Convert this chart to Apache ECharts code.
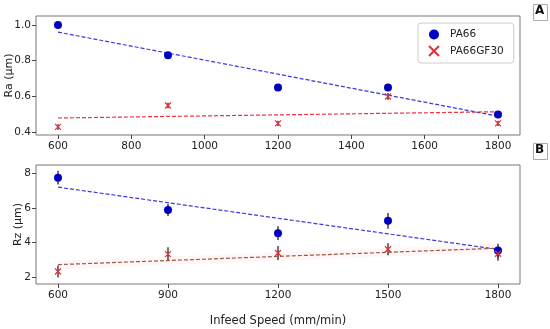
<!DOCTYPE html>
<html><head><meta charset="utf-8">
<script src="https://cdn.jsdelivr.net/npm/echarts@6/dist/echarts.min.js"></script>
<style>html,body{margin:0;padding:0;background:#fff}#c{width:550px;height:329px}</style>
</head><body><div id="c"></div>
<script>
// ---- data ----
var speeds = [600, 900, 1200, 1500, 1800];
var raPA66 = [1.00, 0.83, 0.65, 0.65, 0.50];
var raPA66Err = [0.01, 0.01, 0.01, 0.01, 0.01];
var raGF30 = [0.43, 0.55, 0.45, 0.60, 0.45];
var raGF30Err = [0.015, 0.015, 0.015, 0.02, 0.015];
var rzPA66 = [7.75, 5.88, 4.54, 5.25, 3.53];
var rzPA66Err = [0.40, 0.35, 0.40, 0.45, 0.40];
var rzGF30 = [2.32, 3.33, 3.39, 3.61, 3.35];
var rzGF30Err = [0.35, 0.40, 0.40, 0.35, 0.40];
var fitX = [600, 1800];
var raFitPA66 = [0.96, 0.49];
var raFitGF30 = [0.48, 0.515];
var rzFitPA66 = [7.20, 3.60];
var rzFitGF30 = [2.72, 3.67];
var rzBandLow = [2.45, 3.42];
var rzBandHigh = [2.95, 3.92];
var raTicksX = [600, 800, 1000, 1200, 1400, 1600, 1800];
var rzTicksX = [600, 900, 1200, 1500, 1800];
var raTicksY = [0.4, 0.6, 0.8, 1.0];
var rzTicksY = [2, 4, 6, 8];

function pairs(xs, ys){ return xs.map(function(x,i){return [x, ys[i]];}); }
function errData(xs, ys, es){ return xs.map(function(x,i){return [x, ys[i]-es[i], ys[i]+es[i]];}); }

var BLUE = '#0000c0', RED = '#e0303a', FONT = 'DejaVu Sans';
var axisTxt = {fontFamily: FONT, fontSize: 10.5, color: '#222'};

function errSeries(data, xi, yi){
  return {type:'custom', xAxisIndex:xi, yAxisIndex:yi, z:2, silent:true,
    renderItem:function(params, api){
      var p1 = api.coord([api.value(0), api.value(1)]);
      var p2 = api.coord([api.value(0), api.value(2)]);
      return {type:'line', shape:{x1:p1[0], y1:p1[1], x2:p2[0], y2:p2[1]}, style:{stroke:'#111', lineWidth:1.2}};
    },
    encode:{x:0, y:[1,2]}, data:data};
}
var bandData = fitX.map(function(x,i){return [x, rzBandLow[i], rzBandHigh[i]];});
var bandSeries = {type:'custom', xAxisIndex:1, yAxisIndex:1, z:1, silent:true,
  renderItem:function(params, api){
    if (params.dataIndex !== 0) return null;
    var a = api.coord([bandData[0][0], bandData[0][1]]);
    var b = api.coord([bandData[1][0], bandData[1][1]]);
    var c = api.coord([bandData[1][0], bandData[1][2]]);
    var d = api.coord([bandData[0][0], bandData[0][2]]);
    return {type:'polygon', shape:{points:[a,b,c,d]}, style:{fill:'rgba(255,190,205,0.14)'}};
  },
  encode:{x:0, y:[1,2]}, data:bandData};

var xSymbol = 'path://M0,0L10,10M10,0L0,10';

function xAxisCfg(gi, ticks){
  return {type:'value', gridIndex:gi, min:540, max:1860,
    axisLine:{show:false}, splitLine:{show:false},
    axisTick:{show:true, length:4, customValues:ticks, lineStyle:{color:'#444'}},
    axisLabel:Object.assign({customValues:ticks, margin:6, formatter:function(v){return String(v);}}, axisTxt)};
}
function yAxisCfg(gi, mn, mx, ticks, name, gap, dec){
  return {type:'value', gridIndex:gi, min:mn, max:mx,
    name:name, nameLocation:'middle', nameGap:gap, nameRotate:90, nameMoveOverlap:false,
    nameTextStyle:{fontFamily:FONT, fontSize:11, color:'#222'},
    axisLine:{show:false}, splitLine:{show:false},
    axisTick:{show:true, length:4, customValues:ticks, lineStyle:{color:'#444'}},
    axisLabel:Object.assign({customValues:ticks, margin:5, formatter:function(v){return v.toFixed(dec);}}, axisTxt)};
}

var chart = echarts.init(document.getElementById('c'), null, {renderer:'canvas'});
chart.setOption({
  animation:false,
  grid:[
    {left:36, top:16, width:484, height:119, outerBoundsMode:'none', containLabel:false, show:true, borderColor:'#777', borderWidth:1, backgroundColor:'#fff'},
    {left:36, top:165, width:484, height:119, outerBoundsMode:'none', containLabel:false, show:true, borderColor:'#777', borderWidth:1, backgroundColor:'#fff'}
  ],
  xAxis:[xAxisCfg(0, raTicksX), Object.assign(xAxisCfg(1, rzTicksX), {
    name:'Infeed Speed (mm/min)', nameLocation:'middle', nameGap:31, nameMoveOverlap:false,
    nameTextStyle:{fontFamily:FONT, fontSize:11.5, color:'#222'}})],
  yAxis:[yAxisCfg(0, 0.385, 1.05, raTicksY, 'Ra (µm)', 21.5, 1), yAxisCfg(1, 1.6, 8.48, rzTicksY, 'Rz (µm)', 12, 0)],
  legend:{left:418, top:23, orient:'vertical', itemGap:5, itemWidth:10, itemHeight:10,
    padding:[6,10,6,10], borderColor:'#ccc', borderWidth:1, borderRadius:3, backgroundColor:'#fff',
    textStyle:{fontFamily:FONT, fontSize:10.5, color:'#222', padding:[0,0,0,6]},
    data:['PA66','PA66GF30']},
  graphic:[
    {type:'rect', left:533, top:4, shape:{width:14, height:16}, style:{fill:'#fff', stroke:'#aaa', lineWidth:1}},
    {type:'text', left:535, top:5, style:{text:'A', fontFamily:FONT, fontSize:12, fontWeight:'bold', fill:'#111'}},
    {type:'rect', left:533, top:143, shape:{width:14, height:16}, style:{fill:'#fff', stroke:'#aaa', lineWidth:1}},
    {type:'text', left:535, top:144, style:{text:'B', fontFamily:FONT, fontSize:12, fontWeight:'bold', fill:'#111'}}
  ],
  series:[
    bandSeries,
    // fits
    {type:'line', xAxisIndex:0, yAxisIndex:0, symbol:'none', silent:true, lineStyle:{color:'#3a3ad8', width:1.2, type:[4,2]}, data:pairs(fitX, raFitPA66), z:3},
    {type:'line', xAxisIndex:0, yAxisIndex:0, symbol:'none', silent:true, lineStyle:{color:'#ee3344', width:1.2, type:[4,2]}, data:pairs(fitX, raFitGF30), z:3},
    {type:'line', xAxisIndex:1, yAxisIndex:1, symbol:'none', silent:true, lineStyle:{color:'#3a3ad8', width:1.2, type:[4,2]}, data:pairs(fitX, rzFitPA66), z:3},
    {type:'line', xAxisIndex:1, yAxisIndex:1, symbol:'none', silent:true, lineStyle:{color:'#9a5a40', width:1.2, type:[4,2]}, data:pairs(fitX, rzFitGF30), z:3},
    // error bars
    errSeries(errData(speeds, raPA66, raPA66Err), 0, 0),
    errSeries(errData(speeds, raGF30, raGF30Err), 0, 0),
    errSeries(errData(speeds, rzPA66, rzPA66Err), 1, 1),
    errSeries(errData(speeds, rzGF30, rzGF30Err), 1, 1),
    // markers
    {name:'PA66', type:'scatter', xAxisIndex:0, yAxisIndex:0, symbol:'circle', symbolSize:8, itemStyle:{color:BLUE, opacity:1}, data:pairs(speeds, raPA66), z:4},
    {name:'PA66GF30', type:'scatter', xAxisIndex:0, yAxisIndex:0, symbol:xSymbol, symbolSize:6, itemStyle:{color:'rgba(0,0,0,0)', borderColor:RED, borderWidth:1.2, opacity:1}, data:pairs(speeds, raGF30), z:4},
    {name:'PA66', type:'scatter', xAxisIndex:1, yAxisIndex:1, symbol:'circle', symbolSize:8, itemStyle:{color:BLUE, opacity:1}, data:pairs(speeds, rzPA66), z:4},
    {name:'PA66GF30', type:'scatter', xAxisIndex:1, yAxisIndex:1, symbol:xSymbol, symbolSize:6, itemStyle:{color:'rgba(0,0,0,0)', borderColor:RED, borderWidth:1.2, opacity:1}, data:pairs(speeds, rzGF30), z:4}
  ]
});
</script></body></html>
